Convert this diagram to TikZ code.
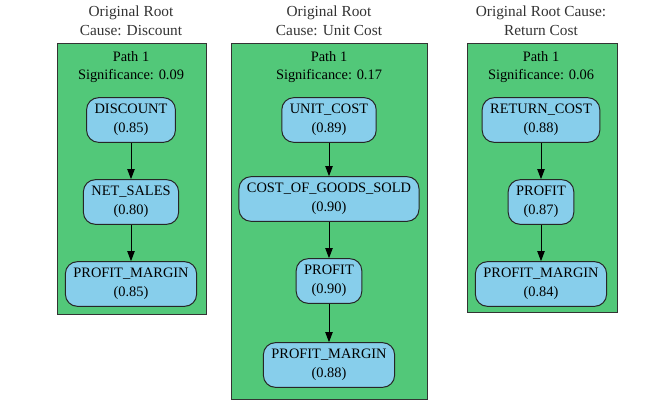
\documentclass[tikz,border=0pt]{standalone}
\usepackage{fontspec}
\setmainfont{Liberation Serif}
\usetikzlibrary{arrows.meta,positioning}

\definecolor{clgreen}{RGB}{82,200,121}
\definecolor{skyblue}{RGB}{135,206,235}

\begin{document}
\begin{tikzpicture}[x=0.75pt,y=-0.75pt,
  cluster/.style={draw=black!80, fill=clgreen, line width=0.75pt},
  factor/.style={draw=black!85, fill=skyblue, rounded corners=9pt, line width=0.75pt,
    align=center, minimum height=33.5pt, inner xsep=6pt,
    font=\fontsize{10.8}{14}\selectfont},
  lbl/.style={align=center, font=\fontsize{10.8}{14}\selectfont},
  title/.style={align=center, text=black!80, font=\fontsize{11.5}{14}\selectfont},
  link/.style={-{Triangle[length=7.5pt,width=5.5pt]}, line width=0.75pt}]
  \useasboundingbox (0,0) rectangle (658,415);

  % clusters
  \draw[cluster] (57,43) rectangle (206,314);
  \draw[cluster] (231,43) rectangle (427,399);
  \draw[cluster] (467,43) rectangle (617,312);

  % titles
  \node[title] (t1) at (131,21) {Original Root\\Cause: Discount};
  \node[title] (t2) at (329,21) {Original Root\\Cause: Unit Cost};
  \node[title] (t3) at (541,21) {Original Root Cause:\\Return Cost};

  \node[lbl] (p1) at (131,67) {Path 1\\Significance: 0.09};
  \node[lbl] (p2) at (329,67) {Path 1\\Significance: 0.17};
  \node[lbl] (p3) at (541,67) {Path 1\\Significance: 0.06};

  % discount path
  \node[factor] (disc) at (131,120) {DISCOUNT\\(0.85)};
  \node[factor] (nets) at (131,202) {NET\_SALES\\(0.80)};
  \node[factor] (pm1)  at (131,284) {PROFIT\_MARGIN\\(0.85)};
  \draw[link] (disc) -- (nets);
  \draw[link] (nets) -- (pm1);

  % unit cost path
  \node[factor] (unit) at (329,120) {UNIT\_COST\\(0.89)};
  \node[factor] (cogs) at (329,199) {COST\_OF\_GOODS\_SOLD\\(0.90)};
  \node[factor] (prof2) at (329,281) {PROFIT\\(0.90)};
  \node[factor] (pm2)  at (329,365) {PROFIT\_MARGIN\\(0.88)};
  \draw[link] (unit) -- (cogs);
  \draw[link] (cogs) -- (prof2);
  \draw[link] (prof2) -- (pm2);

  % return cost path
  \node[factor] (ret)  at (541,120) {RETURN\_COST\\(0.88)};
  \node[factor] (prof3) at (541,202) {PROFIT\\(0.87)};
  \node[factor] (pm3)  at (541,284) {PROFIT\_MARGIN\\(0.84)};
  \draw[link] (ret) -- (prof3);
  \draw[link] (prof3) -- (pm3);
\end{tikzpicture}
\end{document}
